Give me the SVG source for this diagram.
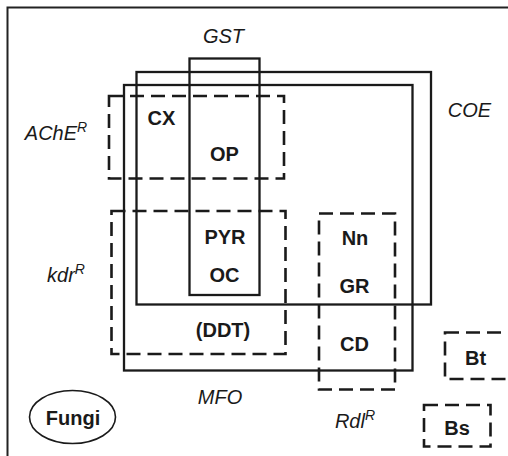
<svg xmlns="http://www.w3.org/2000/svg" width="508" height="456" viewBox="0 0 508 456">
<style>
.frame{fill:none;stroke:#222;stroke-width:2}
.solid{fill:none;stroke:#1a1a1a;stroke-width:2.3}
.dash{fill:none;stroke:#1a1a1a;stroke-width:2.6;stroke-dasharray:14 7}
.b{font-family:"Liberation Sans",Arial,sans-serif;font-weight:bold;font-size:20px;fill:#1a1a1a;text-anchor:middle}
.i{font-family:"Liberation Sans",Arial,sans-serif;font-style:italic;font-size:20px;fill:#1a1a1a;text-anchor:middle}
.sup{font-size:14px}
</style>
<rect width="508" height="456" fill="#fff"/>
<path class="frame" d="M7.5,456 V7.5 H508"/>
<g id="connectors"></g>
<g id="GST"><rect class="solid" x="189.5" y="58.5" width="70" height="236.5"/><text class="i" x="223.5" y="43">GST</text></g>
<g id="COE"><rect class="solid" x="136.5" y="72" width="294.5" height="232.5"/><text class="i" x="469.5" y="117">COE</text></g>
<g id="MFO"><rect class="solid" x="124" y="85" width="288.5" height="285.5"/><text class="i" x="220" y="403.5">MFO</text></g>
<g id="AChER"><rect class="dash" x="109" y="96" width="175" height="82.5"/><text class="i" x="56" y="140">AChE<tspan class="sup" dy="-8">R</tspan></text></g>
<g id="kdrR"><rect class="dash" x="111.5" y="211" width="174" height="143"/><text class="i" x="66" y="282">kdr<tspan class="sup" dy="-8">R</tspan></text></g>
<g id="RdlR"><rect class="dash" x="319" y="213.5" width="76" height="176"/><text class="i" x="355" y="427.5">Rdl<tspan class="sup" dy="-8">R</tspan></text></g>
<g id="Bt"><rect class="dash" x="445" y="332.5" width="70" height="46.5"/><text class="b" x="475.5" y="365">Bt</text></g>
<g id="Bs"><rect class="dash" x="424" y="405" width="66.5" height="41.5"/><text class="b" x="457" y="435">Bs</text></g>
<g id="Fungi"><ellipse cx="72.5" cy="417" rx="43" ry="26.5" fill="none" stroke="#1a1a1a" stroke-width="1.6"/><text class="b" x="73" y="424.5">Fungi</text></g>
<g id="CX"><text class="b" x="161.5" y="125">CX</text></g>
<g id="OP"><text class="b" x="224.5" y="161">OP</text></g>
<g id="PYR"><text class="b" x="225" y="243.5">PYR</text></g>
<g id="OC"><text class="b" x="224.5" y="281.5">OC</text></g>
<g id="DDT"><text class="b" x="223" y="336.5">(DDT)</text></g>
<g id="Nn"><text class="b" x="355" y="244.5">Nn</text></g>
<g id="GR"><text class="b" x="354.5" y="292.5">GR</text></g>
<g id="CD"><text class="b" x="354.5" y="350.5">CD</text></g>
</svg>
